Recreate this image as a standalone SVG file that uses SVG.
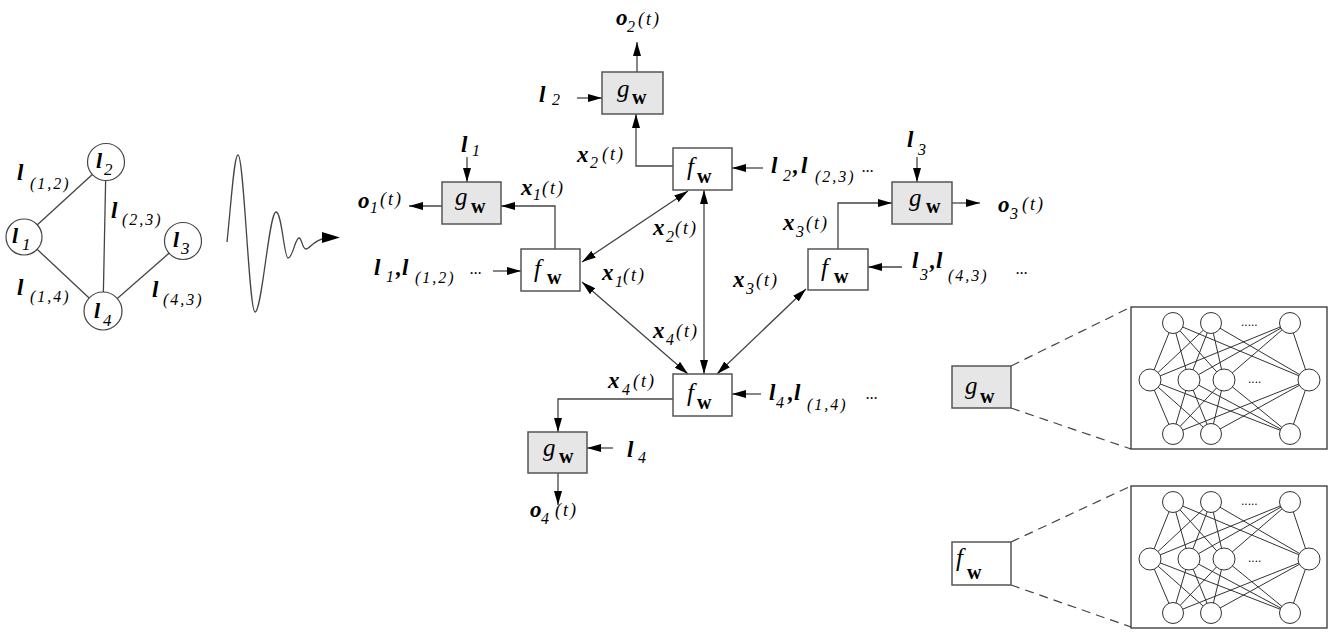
<svg xmlns="http://www.w3.org/2000/svg" xmlns:xlink="http://www.w3.org/1999/xlink" width="1340" height="638" viewBox="0 0 1340 638">
<style>
.dgBg{fill:#fff}
.dgGbox{fill:#e6e6e6;stroke:#555;stroke-width:1.5}
.dgFbox{fill:#fff;stroke:#555;stroke-width:1.5}
.dgLine{fill:none;stroke:#444;stroke-width:1.3}
.dgArr{marker-end:url(#ah)}
.dgBi{marker-start:url(#ah);marker-end:url(#ah)}
.dgDash{fill:none;stroke:#444;stroke-width:1.2;stroke-dasharray:9 6}
.dgNl{stroke:#333;stroke-width:1}
.dgNc{fill:#fff;stroke:#333;stroke-width:1}
.dgGc{fill:#fff;stroke:#444;stroke-width:1.2}
.dgTxt{fill:#000;font-family:'Liberation Serif','Times New Roman',serif}
.dgMain{font-family:'Liberation Serif','Times New Roman',serif;font-size:23px;font-weight:bold;font-style:italic}
.dgSub{font-family:'Liberation Serif','Times New Roman',serif;font-size:16px;font-style:italic;letter-spacing:1px}
.dgPar{font-family:'Liberation Serif','Times New Roman',serif;font-size:16px;font-style:italic;letter-spacing:2px}
.dgTt{font-family:'Liberation Serif','Times New Roman',serif;font-size:18px;font-style:italic;letter-spacing:2px}
.dgGi{font-family:'Liberation Serif','Times New Roman',serif;font-size:25px;font-style:italic}
.dgW{font-family:'Liberation Serif','Times New Roman',serif;font-size:20px;font-weight:bold}
.dgDots{font-family:'Liberation Serif','Times New Roman',serif;font-size:16px;font-style:italic}
.dgNd{font-family:'Liberation Sans',Arial,sans-serif;font-size:12px}
</style>
<defs>
<marker id="ah" viewBox="0 0 14 8" refX="14" refY="4" markerWidth="14" markerHeight="8" markerUnits="userSpaceOnUse" orient="auto-start-reverse">
<path d="M0,0 L14,4 L0,8 z" fill="#000"/>
</marker>
<g id="net">
<rect x="0" y="0" width="196" height="142" fill="#fff" stroke="#333" stroke-width="1.3"/>
<g class="dgNl">
<line x1="42" y1="16" x2="19" y2="73"/><line x1="42" y1="16" x2="58" y2="73"/><line x1="42" y1="16" x2="93" y2="73"/><line x1="42" y1="16" x2="178" y2="73"/>
<line x1="80" y1="16" x2="19" y2="73"/><line x1="80" y1="16" x2="58" y2="73"/><line x1="80" y1="16" x2="93" y2="73"/><line x1="80" y1="16" x2="178" y2="73"/>
<line x1="159" y1="16" x2="19" y2="73"/><line x1="159" y1="16" x2="58" y2="73"/><line x1="159" y1="16" x2="93" y2="73"/><line x1="159" y1="16" x2="178" y2="73"/>
<line x1="42" y1="127" x2="19" y2="73"/><line x1="42" y1="127" x2="58" y2="73"/><line x1="42" y1="127" x2="93" y2="73"/><line x1="42" y1="127" x2="178" y2="73"/>
<line x1="80" y1="127" x2="19" y2="73"/><line x1="80" y1="127" x2="58" y2="73"/><line x1="80" y1="127" x2="93" y2="73"/><line x1="80" y1="127" x2="178" y2="73"/>
<line x1="159" y1="127" x2="19" y2="73"/><line x1="159" y1="127" x2="58" y2="73"/><line x1="159" y1="127" x2="93" y2="73"/><line x1="159" y1="127" x2="178" y2="73"/>
</g>
<circle class="dgNc" cx="42" cy="16" r="10.5"/><circle class="dgNc" cx="80" cy="16" r="10.5"/><circle class="dgNc" cx="159" cy="16" r="10.5"/>
<circle class="dgNc" cx="19" cy="73" r="11"/><circle class="dgNc" cx="58" cy="73" r="11"/><circle class="dgNc" cx="93" cy="73" r="11"/><circle class="dgNc" cx="178" cy="73" r="11"/>
<circle class="dgNc" cx="42" cy="127" r="10.5"/><circle class="dgNc" cx="80" cy="127" r="10.5"/><circle class="dgNc" cx="159" cy="127" r="10.5"/>
<text class="dgNd" x="110" y="19">.....</text>
<text class="dgNd" x="117" y="76">....</text>
</g>
</defs>
<rect class="dgBg" x="0" y="0" width="1340" height="638"/>

<!-- left graph -->
<g id="graph">
<g class="dgLine">
<line x1="24" y1="237" x2="106" y2="162"/>
<line x1="106" y1="162" x2="103" y2="311"/>
<line x1="24" y1="237" x2="103" y2="311"/>
<line x1="183" y1="241" x2="103" y2="311"/>
</g>
<g id="gl1"><circle class="dgGc" cx="24" cy="237" r="18"/><text class="dgTxt"><tspan class="dgMain" x="12" y="243" style="font-size:22px">l</tspan><tspan class="dgSub" x="22" y="250" style="font-size:17px">1</tspan></text></g>
<g id="gl2"><circle class="dgGc" cx="106" cy="162" r="18.5"/><text class="dgTxt"><tspan class="dgMain" x="96" y="168" style="font-size:22px">l</tspan><tspan class="dgSub" x="104" y="175" style="font-size:17px">2</tspan></text></g>
<g id="gl3"><circle class="dgGc" cx="183" cy="241" r="18.5"/><text class="dgTxt"><tspan class="dgMain" x="173" y="247" style="font-size:22px">l</tspan><tspan class="dgSub" x="181" y="254" style="font-size:17px">3</tspan></text></g>
<g id="gl4"><circle class="dgGc" cx="103" cy="311" r="19"/><text class="dgTxt"><tspan class="dgMain" x="94" y="318" style="font-size:22px">l</tspan><tspan class="dgSub" x="103" y="326" style="font-size:17px">4</tspan></text></g>
<text class="dgTxt"><tspan class="dgMain" x="17" y="180">l</tspan><tspan class="dgPar" x="30" y="189">(1,2)</tspan></text>
<text class="dgTxt"><tspan class="dgMain" x="111" y="218">l</tspan><tspan class="dgPar" x="122" y="225">(2,3)</tspan></text>
<text class="dgTxt"><tspan class="dgMain" x="17" y="295">l</tspan><tspan class="dgPar" x="30" y="302">(1,4)</tspan></text>
<text class="dgTxt"><tspan class="dgMain" x="152" y="297">l</tspan><tspan class="dgPar" x="163" y="305">(4,3)</tspan></text>
</g>

<!-- wave -->
<g id="wave">
<path class="dgLine" d="M227,242 C231,205 234,155 238,155 C244,155 249,312 255,312 C262,312 269,212 276,212 C282,212 284,258 288,258 C293,258 295,238 299,238 C302,238 302,249 306,249 C310,249 313,240 326,238" />
<path d="M322,232 L340,237.5 L322,243 z" fill="#000"/>
</g>

<!-- connectors -->
<g id="connectors">
<line class="dgLine dgArr" x1="637" y1="72" x2="637" y2="42"/>
<line class="dgLine dgArr" x1="577" y1="98" x2="602" y2="98"/>
<path class="dgLine dgArr" d="M673,166 H636 V114"/>
<line class="dgLine dgArr" x1="763" y1="168" x2="732" y2="168"/>
<line class="dgLine dgArr" x1="467" y1="157" x2="467" y2="182"/>
<line class="dgLine dgArr" x1="442" y1="206" x2="409" y2="206"/>
<path class="dgLine dgArr" d="M555,249 V206 H501"/>
<line class="dgLine dgArr" x1="493" y1="271" x2="521" y2="271"/>
<line class="dgLine dgArr" x1="917" y1="157" x2="917" y2="182"/>
<path class="dgLine dgArr" d="M838,249 V203 H892"/>
<line class="dgLine dgArr" x1="952" y1="203" x2="980" y2="203"/>
<line class="dgLine dgArr" x1="902" y1="267" x2="868" y2="267"/>
<line class="dgLine dgArr" x1="761" y1="394" x2="732" y2="394"/>
<path class="dgLine dgArr" d="M673,399 H558 V432"/>
<line class="dgLine dgArr" x1="613" y1="448" x2="587" y2="448"/>
<line class="dgLine dgArr" x1="558" y1="473" x2="558" y2="505"/>
<line class="dgLine dgBi" x1="582" y1="262" x2="688" y2="191"/>
<line class="dgLine dgBi" x1="582" y1="282" x2="688" y2="374"/>
<line class="dgLine dgBi" x1="704" y1="190" x2="704" y2="374"/>
<line class="dgLine dgBi" x1="806" y1="289" x2="717" y2="374"/>
<line class="dgDash" x1="1011" y1="366" x2="1131" y2="307"/>
<line class="dgDash" x1="1011" y1="408" x2="1131" y2="449"/>
<line class="dgDash" x1="1011" y1="542" x2="1131" y2="486"/>
<line class="dgDash" x1="1011" y1="585" x2="1131" y2="627"/>
</g>

<!-- nodes -->
<g id="g2"><rect class="dgGbox" x="602" y="72" width="61" height="42"/><text class="dgTxt"><tspan class="dgGi" x="617" y="97">g</tspan><tspan class="dgW" x="632" y="104">w</tspan></text></g>
<g id="f2"><rect class="dgFbox" x="673" y="148" width="59" height="42"/><text class="dgTxt"><tspan class="dgGi" x="687" y="175">f</tspan><tspan class="dgW" x="697" y="183">w</tspan></text></g>
<g id="g1"><rect class="dgGbox" x="442" y="182" width="59" height="42"/><text class="dgTxt"><tspan class="dgGi" x="455" y="205">g</tspan><tspan class="dgW" x="471" y="213">w</tspan></text></g>
<g id="f1"><rect class="dgFbox" x="521" y="249" width="59" height="42"/><text class="dgTxt"><tspan class="dgGi" x="534" y="277">f</tspan><tspan class="dgW" x="547" y="284">w</tspan></text></g>
<g id="g3"><rect class="dgGbox" x="892" y="182" width="60" height="42"/><text class="dgTxt"><tspan class="dgGi" x="909" y="206">g</tspan><tspan class="dgW" x="926" y="213">w</tspan></text></g>
<g id="f3"><rect class="dgFbox" x="808" y="249" width="60" height="41"/><text class="dgTxt"><tspan class="dgGi" x="821" y="276">f</tspan><tspan class="dgW" x="834" y="283">w</tspan></text></g>
<g id="f4"><rect class="dgFbox" x="673" y="374" width="59" height="42"/><text class="dgTxt"><tspan class="dgGi" x="687" y="401">f</tspan><tspan class="dgW" x="697" y="409">w</tspan></text></g>
<g id="g4"><rect class="dgGbox" x="528" y="432" width="59" height="41"/><text class="dgTxt"><tspan class="dgGi" x="543" y="456">g</tspan><tspan class="dgW" x="559" y="463">w</tspan></text></g>

<g id="gdetail"><rect class="dgGbox" x="952" y="366" width="59" height="42"/><text class="dgTxt"><tspan class="dgGi" x="965" y="394">g</tspan><tspan class="dgW" x="980" y="403">w</tspan></text></g>
<g id="fdetail"><rect class="dgFbox" x="952" y="542" width="59" height="43"/><text class="dgTxt"><tspan class="dgGi" x="956" y="566">f</tspan><tspan class="dgW" x="967" y="579">w</tspan></text></g>
<g id="gnet"><use xlink:href="#net" href="#net" x="1131" y="307"/></g>
<g id="fnet"><use xlink:href="#net" href="#net" x="1131" y="486"/></g>

<!-- labels -->
<g id="labels">
<text class="dgTxt"><tspan class="dgMain" x="616" y="25">o</tspan><tspan class="dgSub" x="627" y="32">2</tspan><tspan class="dgTt" x="638" y="25">(t)</tspan></text>
<text class="dgTxt"><tspan class="dgMain" x="539" y="102">l</tspan><tspan class="dgSub" x="552" y="105">2</tspan></text>
<text class="dgTxt"><tspan class="dgMain" x="577" y="162">x</tspan><tspan class="dgSub" x="590" y="168">2</tspan><tspan class="dgTt" x="602" y="160">(t)</tspan></text>
<text class="dgTxt"><tspan class="dgMain" x="771" y="173">l</tspan><tspan class="dgSub" x="783" y="181">2</tspan><tspan class="dgMain" x="793" y="173">,</tspan><tspan class="dgMain" x="801" y="173">l</tspan><tspan class="dgPar" x="815" y="182">(2,3)</tspan><tspan class="dgDots" x="862" y="172">...</tspan></text>
<text class="dgTxt"><tspan class="dgMain" x="461" y="152">l</tspan><tspan class="dgSub" x="472" y="156">1</tspan></text>
<text class="dgTxt"><tspan class="dgMain" x="358" y="208">o</tspan><tspan class="dgSub" x="370" y="213">1</tspan><tspan class="dgTt" x="380" y="205">(t)</tspan></text>
<text class="dgTxt"><tspan class="dgMain" x="521" y="195">x</tspan><tspan class="dgSub" x="533" y="200">1</tspan><tspan class="dgTt" x="542" y="194">(t)</tspan></text>
<text class="dgTxt"><tspan class="dgMain" x="374" y="275">l</tspan><tspan class="dgSub" x="386" y="282">1</tspan><tspan class="dgMain" x="396" y="275">,</tspan><tspan class="dgMain" x="402" y="275">l</tspan><tspan class="dgPar" x="415" y="283">(1,2)</tspan><tspan class="dgDots" x="470" y="274">...</tspan></text>
<text class="dgTxt"><tspan class="dgMain" x="653" y="235">x</tspan><tspan class="dgSub" x="666" y="242">2</tspan><tspan class="dgTt" x="675" y="234">(t)</tspan></text>
<text class="dgTxt"><tspan class="dgMain" x="602" y="280">x</tspan><tspan class="dgSub" x="615" y="287">1</tspan><tspan class="dgTt" x="623" y="281">(t)</tspan></text>
<text class="dgTxt"><tspan class="dgMain" x="653" y="338">x</tspan><tspan class="dgSub" x="666" y="345">4</tspan><tspan class="dgTt" x="676" y="337">(t)</tspan></text>
<text class="dgTxt"><tspan class="dgMain" x="907" y="147">l</tspan><tspan class="dgSub" x="918" y="155">3</tspan></text>
<text class="dgTxt"><tspan class="dgMain" x="998" y="212">o</tspan><tspan class="dgSub" x="1010" y="219">3</tspan><tspan class="dgTt" x="1022" y="210">(t)</tspan></text>
<text class="dgTxt"><tspan class="dgMain" x="783" y="230">x</tspan><tspan class="dgSub" x="796" y="237">3</tspan><tspan class="dgTt" x="806" y="229">(t)</tspan></text>
<text class="dgTxt"><tspan class="dgMain" x="912" y="268">l</tspan><tspan class="dgSub" x="920" y="280">3</tspan><tspan class="dgMain" x="930" y="268">,</tspan><tspan class="dgMain" x="936" y="268">l</tspan><tspan class="dgPar" x="948" y="281">(4,3)</tspan><tspan class="dgDots" x="1016" y="274">...</tspan></text>
<text class="dgTxt"><tspan class="dgMain" x="733" y="287">x</tspan><tspan class="dgSub" x="746" y="294">3</tspan><tspan class="dgTt" x="756" y="286">(t)</tspan></text>
<text class="dgTxt"><tspan class="dgMain" x="769" y="400">l</tspan><tspan class="dgSub" x="776" y="408">4</tspan><tspan class="dgMain" x="788" y="400">,</tspan><tspan class="dgMain" x="794" y="400">l</tspan><tspan class="dgPar" x="807" y="410">(1,4)</tspan><tspan class="dgDots" x="866" y="399">...</tspan></text>
<text class="dgTxt"><tspan class="dgMain" x="608" y="388">x</tspan><tspan class="dgSub" x="622" y="395">4</tspan><tspan class="dgTt" x="633" y="387">(t)</tspan></text>
<text class="dgTxt"><tspan class="dgMain" x="627" y="457">l</tspan><tspan class="dgSub" x="638" y="463">4</tspan></text>
<text class="dgTxt"><tspan class="dgMain" x="530" y="517">o</tspan><tspan class="dgSub" x="541" y="524">4</tspan><tspan class="dgTt" x="555" y="516">(t)</tspan></text>
</g>
</svg>
